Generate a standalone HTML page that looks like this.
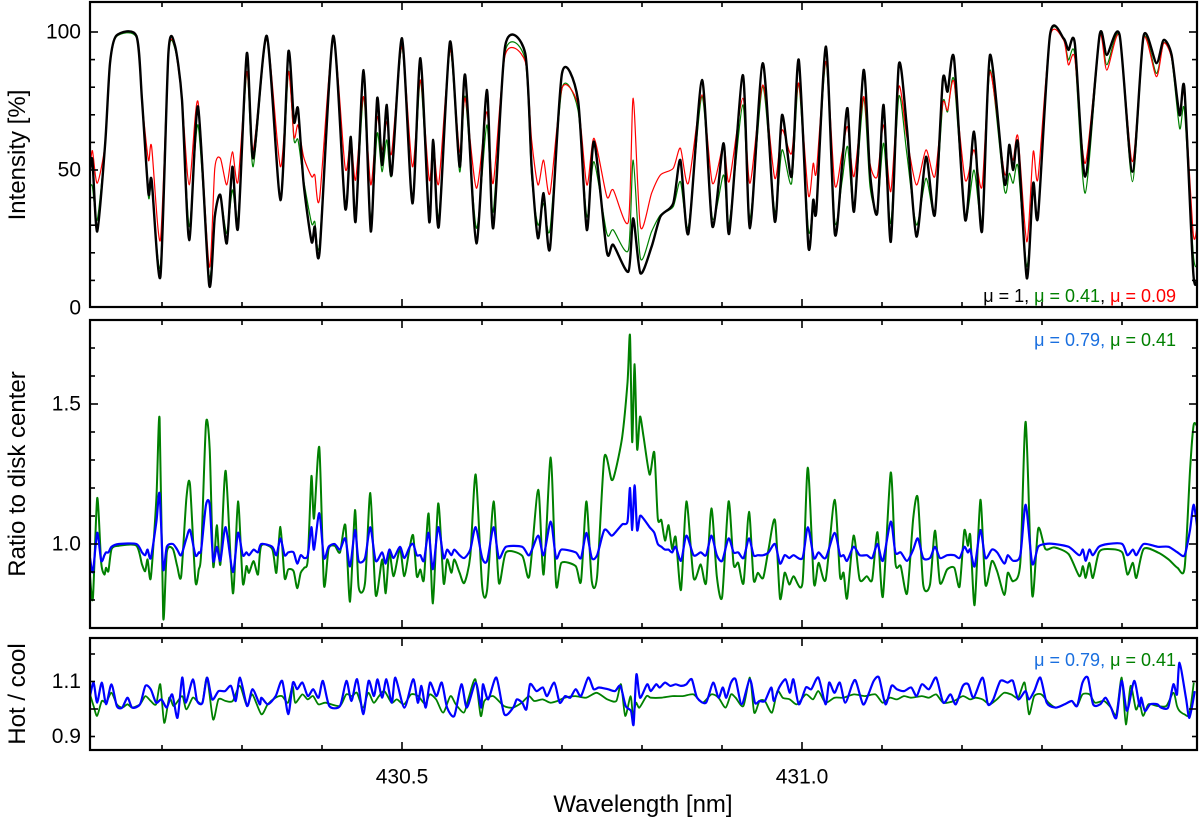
<!DOCTYPE html>
<html><head><meta charset="utf-8">
<style>
html,body{margin:0;padding:0;background:#fff;}
svg{display:block;font-family:"Liberation Sans",Arial,sans-serif;}
</style></head>
<body>
<svg id="chart" width="1200" height="824" viewBox="0 0 1200 824" xmlns="http://www.w3.org/2000/svg">
<defs>
<clipPath id="c1"><rect x="90" y="2" width="1107" height="305"/></clipPath>
<clipPath id="c2"><rect x="90" y="320" width="1107" height="308"/></clipPath>
<clipPath id="c3"><rect x="90" y="638" width="1107" height="112"/></clipPath>
</defs>
<g id="layer"></g>
<text x="0" y="0" transform="translate(25,155) rotate(-90)" text-anchor="middle" font-size="24">Intensity [%]</text>
<text x="0" y="0" transform="translate(25,474) rotate(-90)" text-anchor="middle" font-size="24">Ratio to disk center</text>
<text x="0" y="0" transform="translate(25,694) rotate(-90)" text-anchor="middle" font-size="24">Hot / cool</text>
<text x="643" y="812" text-anchor="middle" font-size="24">Wavelength [nm]</text>
<text x="1176" y="302" text-anchor="end" font-size="18"><tspan fill="#000">μ = 1, </tspan><tspan fill="#008000">μ = 0.41</tspan><tspan fill="#000">, </tspan><tspan fill="#ff0000">μ = 0.09</tspan></text>
<text x="1176" y="346" text-anchor="end" font-size="18"><tspan fill="#1a6fdf">μ = 0.79</tspan><tspan fill="#1a6fdf">, </tspan><tspan fill="#008000">μ = 0.41</tspan></text>
<text x="1176" y="666" text-anchor="end" font-size="18"><tspan fill="#1a6fdf">μ = 0.79</tspan><tspan fill="#1a6fdf">, </tspan><tspan fill="#008000">μ = 0.41</tspan></text>
</svg>
<script>
// ---- top panel data (wavelength nm, intensity %) ----
const topWl=[430.110,430.113,430.119,430.129,430.135,430.143,430.168,430.175,430.183,430.187,430.198,430.208,430.216,430.225,430.234,430.245,430.259,430.266,430.273,430.281,430.288,430.295,430.306,430.314,430.331,430.348,430.358,430.365,430.370,430.377,430.387,430.391,430.397,430.414,430.429,430.436,430.442,430.452,430.461,430.469,430.475,430.481,430.487,430.500,430.513,430.523,430.534,430.539,430.546,430.560,430.572,430.579,430.593,430.606,430.614,430.629,430.654,430.662,430.670,430.677,430.685,430.700,430.720,430.731,430.740,430.756,430.764,430.783,430.789,430.798,430.812,430.823,430.839,430.848,430.858,430.875,430.888,430.902,430.909,430.926,430.935,430.951,430.966,430.975,430.987,430.996,431.008,431.014,431.018,431.030,431.041,431.050,431.057,431.065,431.077,431.085,431.094,431.102,431.111,431.121,431.131,431.143,431.155,431.166,431.176,431.182,431.190,431.204,431.215,431.225,431.235,431.253,431.259,431.264,431.270,431.281,431.289,431.295,431.310,431.327,431.333,431.341,431.354,431.372,431.381,431.397,431.413,431.427,431.443,431.452,431.462,431.472,431.478,431.489,431.494];
const topBlack=[50.0,53.6,27.7,59.7,88.7,98.7,98.6,75.4,41.6,46.4,11.4,92.3,95.3,75.4,24.6,73,8.3,33.1,40.9,23.4,51.2,28.9,92.3,54.2,98.6,39.1,92.9,67.5,72.3,45.2,24,29.5,20.4,98.6,36.1,62,31.3,86.2,27.7,76,51.8,73.6,48.2,97.7,37.9,90.5,31.3,60.9,29.5,96.5,51.2,84.4,23.4,79,28.9,95,92.3,51.2,25.3,41.6,21.6,85,75.4,28.3,60.3,20.4,22.9,13.2,32.5,12.6,22.2,33.1,37.9,53.6,27,82.6,29.5,59.7,27,84.4,28.9,88.7,31.3,69.9,47.6,89.9,22.2,39.1,35.5,94.7,27,51.2,72.3,34.9,86.2,48.8,34.3,73.6,24,88.1,65.7,25.9,54.8,33.7,82.6,78.4,90.5,31.9,63.9,27.7,91.7,45.2,59.1,50,59.7,10.8,45.2,33.1,98.9,97.7,93.5,95.9,47.6,98.9,91.7,98.9,49.4,98.6,88.7,97.1,91.7,69.9,79.6,13.2,10];
const topGreen=[44,44,31.9,59.7,88,98.3,98,75,40.4,44,15,91,94.1,75.4,29.5,66.3,11.4,34.3,40.4,27,42.8,33.1,85.6,51.2,97.7,39.1,85.6,60.9,60.9,46.4,30.7,31.3,23.4,97.7,37.9,61.5,33.1,76.6,31.9,63.3,49.4,60.9,48.2,94.7,39.1,82.6,34.3,59.7,33.1,93.5,49.4,76.6,28.9,66.3,34.9,92.9,89.9,47.6,30.1,37.9,28.3,79.6,71.7,33.1,53,27,28.3,21,53.6,18,27.7,33.7,36.7,45.8,29.5,76.6,32.5,48.2,30.7,73.6,32.5,80.2,34.9,57.3,45.2,81.4,28.3,37.9,37.3,89.3,31.3,45.8,58.5,36.1,76,44,35.5,59.7,30.7,76.6,56,30.1,47,34.3,74.2,71.1,82.6,33.1,50,31.3,86.2,42.8,48.8,45.2,51.2,15,43.4,34.3,98.6,97.2,89.9,91.7,41.6,98.4,88.1,98.4,45.8,97.7,85,96,90.5,65.1,71.7,19.8,15];
const topRed=[50,57,45.2,59.7,88,98.5,98.5,75,53.6,58.5,24.6,92,94.7,75.4,44.6,74.8,15,50.6,54.2,44.6,56.6,45.8,85.6,57.3,97.7,51.2,85.6,62,66.3,54.8,47.6,48.2,39.7,97.3,50.6,61.5,46.4,76.6,44.6,69.3,57.3,67.5,56,94.7,51.2,82.6,46.4,60.3,45.2,93.5,56.6,76,43.4,71.1,45.2,91.7,89.3,60.9,44.6,53.6,41.6,79.6,73.6,44.6,61.5,40.4,42.8,31.3,76,29.5,41.6,48.2,50.6,57.9,45.2,77.2,45.2,59.1,45.8,76,45.2,80.8,47,64.5,56,81.4,40.9,52.4,49.4,89.3,44.6,56,65.7,47.6,76.6,52.4,47.6,66.3,42.2,80.2,62,44.6,57.3,47.6,74.2,71.7,82,46.4,57.3,43.9,85.6,48.8,57.9,53.6,62,24,56.6,47,98.3,97.1,88.1,90.5,52.4,98.3,86.2,98.5,53,97.7,83.8,95.9,90.5,69.9,77.8,27,30];

// ---- middle panel data (ratio to disk center) ----
const midWl=[430.110,430.1136,430.119,430.124,430.128,430.130,430.133,430.137,430.146,430.168,430.175,430.179,430.182,430.186,430.193,430.197,430.2015,430.206,430.2136,430.219,430.224,430.2305,430.235,430.2417,430.246,430.249,430.255,430.2596,430.264,430.2685,430.273,430.2796,430.2886,430.295,430.301,430.3055,430.3087,430.3145,430.32,430.324,430.3377,430.343,430.348,430.3533,430.3578,430.3645,430.369,430.3734,430.3778,430.3823,430.3868,430.390,430.3966,430.4024,430.4082,430.4158,430.4225,430.4292,430.435,430.4413,430.4457,430.4538,430.4604,430.4671,430.4752,430.4796,430.4841,430.4895,430.4975,430.5029,430.5096,430.514,430.5185,430.523,430.5274,430.5332,430.5386,430.5453,430.552,430.5564,430.5618,430.5654,430.572,430.5779,430.5854,430.5921,430.6002,430.6064,430.6145,430.6211,430.630,430.6502,430.6591,430.6703,430.677,430.6859,430.6926,430.6993,430.7171,430.7238,430.7305,430.7372,430.7439,430.7529,430.7618,430.7663,430.7752,430.7819,430.785,430.7877,430.7908,430.7939,430.7975,430.802,430.8095,430.8154,430.8198,430.8243,430.8288,430.8332,430.8377,430.8421,430.8488,430.8555,430.8645,430.8734,430.8801,430.8868,430.8935,430.9002,430.9082,430.9145,430.9203,430.927,430.9337,430.9395,430.9448,430.9515,430.9582,430.9663,430.9725,430.9783,430.9841,430.9895,431.0006,431.0073,431.0149,431.0207,431.0296,431.0408,431.0475,431.052,431.0564,431.0645,431.0721,431.081,431.0877,431.0944,431.1011,431.1109,431.1167,431.1234,431.1314,431.139,431.1448,431.1515,431.16,431.1662,431.1725,431.1814,431.1904,431.197,431.2029,431.2073,431.2104,431.2158,431.223,431.2292,431.2372,431.2439,431.2529,431.2573,431.264,431.2729,431.2796,431.2877,431.2952,431.3042,431.3154,431.3332,431.3466,431.3511,431.3546,431.3591,431.3636,431.3711,431.3823,431.4002,431.4068,431.4136,431.418,431.427,431.4448,431.4582,431.4694,431.4783,431.485,431.4895,431.494];
const midGreen=[0.885,0.806,1.164,0.933,0.891,0.915,0.903,0.982,0.994,0.994,0.927,0.903,0.945,0.879,1.164,1.448,0.739,0.970,0.982,0.921,0.885,1.164,1.212,0.867,0.909,0.970,1.430,1.339,0.921,1.067,0.927,1.261,0.824,1.152,0.861,0.921,0.897,0.939,0.891,0.994,0.982,0.897,1.061,0.879,0.909,0.903,0.842,0.897,0.915,0.945,1.242,1.091,1.345,0.855,0.982,0.994,0.970,1.067,0.794,1.121,0.848,0.861,1.182,0.818,0.945,0.824,0.970,0.885,0.982,0.885,0.988,1.030,0.885,0.909,0.873,1.109,0.788,1.145,0.861,0.945,0.897,0.945,0.897,0.861,0.958,1.248,0.848,0.836,1.152,0.861,0.970,0.958,0.885,1.194,0.891,1.309,0.855,0.933,0.921,0.867,1.152,0.867,0.885,1.309,1.230,1.255,1.382,1.576,1.745,1.364,1.642,1.339,1.455,1.382,1.248,1.327,1.091,1.085,1.012,1.067,0.982,1.024,0.836,1.152,0.879,0.927,0.861,1.127,0.885,0.812,1.152,0.927,0.933,0.861,1.115,0.873,0.897,0.879,0.982,1.085,0.806,0.897,0.855,0.885,0.861,1.273,0.861,0.933,0.873,1.158,0.885,0.897,0.806,1.030,0.873,0.885,0.873,1.042,0.812,1.255,0.933,0.921,0.824,1.091,1.164,0.855,0.855,1.048,0.861,0.909,0.915,0.848,1.048,0.994,1.030,0.782,1.158,0.855,0.939,0.903,0.818,0.897,0.867,0.933,1.436,0.818,1.055,0.982,0.988,0.964,0.885,0.921,0.879,0.933,0.879,0.970,0.982,0.970,0.891,0.933,0.879,0.982,0.970,0.945,0.915,0.915,1.261,1.424,1.42];
const midBlue=[0.95,0.90,1.04,0.94,0.96,0.97,0.97,0.99,1.0,1.0,0.97,0.96,0.98,0.95,1.08,1.18,0.91,0.99,1.0,0.98,0.96,1.02,1.05,0.96,0.97,0.98,1.14,1.14,0.94,0.99,0.94,1.06,0.90,1.04,0.96,0.97,0.96,0.98,0.97,1.0,0.99,0.96,1.02,0.96,0.97,0.97,0.93,0.96,0.95,0.96,1.06,0.98,1.11,0.95,0.99,1.0,0.98,1.02,0.92,1.05,0.94,0.95,1.06,0.94,0.97,0.93,0.98,0.95,0.99,0.95,0.99,1.0,0.96,0.96,0.94,1.04,0.91,1.06,0.95,0.98,0.96,0.98,0.96,0.95,0.98,1.06,0.95,0.94,1.06,0.95,0.99,0.99,0.96,1.03,0.96,1.08,0.95,0.98,0.97,0.95,1.04,0.95,0.96,1.05,1.03,1.04,1.07,1.08,1.20,1.05,1.21,1.05,1.10,1.09,1.06,1.04,1.0,0.99,0.98,0.98,0.97,0.99,0.94,1.03,0.96,0.97,0.96,1.03,0.96,0.94,1.02,0.97,0.97,0.95,1.02,0.96,0.96,0.96,0.97,1.0,0.93,0.96,0.95,0.96,0.95,1.06,0.95,0.97,0.95,1.04,0.96,0.96,0.94,0.99,0.96,0.96,0.95,1.0,0.94,1.08,0.97,0.97,0.94,0.98,1.02,0.95,0.95,0.99,0.95,0.96,0.96,0.95,0.99,0.97,0.98,0.92,1.05,0.95,0.98,0.97,0.93,0.96,0.94,0.96,1.14,0.93,0.99,1.0,1.0,0.99,0.96,0.98,0.94,0.98,0.96,0.99,1.0,1.0,0.96,0.98,0.96,1.0,0.99,0.99,0.97,0.96,1.05,1.14,1.06];

// ---- bottom panel data (hot / cool) ----
const botBlueWl=[430.1100,430.1145,430.1189,430.1247,430.1301,430.1368,430.1435,430.1502,430.1569,430.1627,430.1725,430.1792,430.1859,430.1926,430.1993,430.2060,430.2127,430.2194,430.2252,430.2296,430.2386,430.2439,430.2506,430.2564,430.2627,430.2707,430.2788,430.2863,430.2921,430.2975,430.3064,430.3131,430.3221,430.3243,430.3323,430.3421,430.3502,430.3578,430.3636,430.3689,430.3756,430.3823,430.3890,430.3957,430.4011,430.4091,430.4225,430.4305,430.4368,430.4439,430.4515,430.4582,430.4649,430.4694,430.4752,430.4805,430.4872,430.4917,430.5029,430.5140,430.5198,430.5243,430.5296,430.5350,430.5430,430.5497,430.5564,430.5654,430.5743,430.5810,430.5921,430.5989,430.6011,430.6078,430.6180,430.6279,430.6390,430.6435,430.6502,430.6555,430.6600,430.6680,430.6761,430.6814,430.6904,430.6971,430.7038,430.7104,430.7171,430.7238,430.7328,430.7395,430.7462,430.7573,430.7663,430.7730,430.7796,430.7863,430.7895,430.7930,430.7975,430.8064,430.8109,430.8176,430.8221,430.8287,430.8354,430.8421,430.8488,430.8555,430.8622,430.8689,430.8800,430.8889,430.8956,430.9010,430.9054,430.9112,430.9170,430.9246,430.9349,430.9411,430.9469,430.9536,430.9616,430.9648,430.9715,430.9795,430.9848,430.9893,430.9960,431.0049,431.0116,431.0205,431.0294,431.0339,431.0406,431.0473,431.0540,431.0629,431.0673,431.0763,431.0830,431.0896,431.0963,431.1044,431.1119,431.1186,431.1275,431.1365,431.1432,431.1498,431.1588,431.1677,431.1766,431.1855,431.1922,431.2011,431.2078,431.2145,431.2257,431.2324,431.2391,431.2480,431.2569,431.2636,431.2703,431.2792,431.2837,431.2903,431.2979,431.3059,431.3171,431.3282,431.3372,431.3439,431.3506,431.3573,431.3639,431.3728,431.3795,431.3862,431.3929,431.3996,431.4063,431.4152,431.4219,431.4241,431.4286,431.4353,431.4442,431.4487,431.4576,431.4643,431.4687,431.4719,431.4799,431.4843,431.4910];
const botBlue=[1.047,1.096,1.023,1.096,1.017,1.090,1.011,1.005,1.041,1.005,1.017,1.084,1.072,1.023,1.035,1.005,1.053,0.968,1.114,1.023,1.108,1.029,1.023,1.114,1.035,1.065,1.065,1.084,1.029,1.114,1.011,1.072,1.017,1.041,1.017,1.047,1.102,0.981,1.096,1.072,1.096,1.047,1.072,1.041,1.102,1.011,1.011,1.102,1.029,1.108,0.981,1.102,1.047,1.108,1.041,1.108,1.023,1.114,1.005,1.108,1.023,1.084,1.005,1.096,1.047,1.096,1.005,0.975,1.090,1.005,1.096,1.005,1.090,1.035,1.114,0.981,1.005,1.035,1.023,0.999,1.090,1.065,1.078,1.047,1.096,1.023,1.047,1.041,1.072,1.047,1.114,1.072,1.078,1.072,1.065,1.084,1.011,0.993,0.944,1.126,1.041,1.090,1.065,1.090,1.078,1.096,1.084,1.090,1.084,1.090,1.108,1.041,1.023,1.096,1.041,1.078,1.041,1.096,1.108,1.017,1.108,1.023,1.029,1.029,1.078,1.029,1.078,1.108,1.059,1.108,1.017,1.078,1.072,1.114,1.017,1.096,1.059,1.096,1.023,1.090,1.102,1.017,1.053,1.102,1.114,1.017,1.084,1.072,1.065,1.078,1.047,1.090,1.072,1.114,1.023,1.053,1.017,1.084,1.090,1.041,1.114,1.017,1.035,1.102,1.096,1.102,1.035,1.065,1.035,1.065,1.114,1.023,1.005,1.017,1.029,1.011,1.096,1.114,1.017,1.017,1.041,1.005,0.968,1.102,0.993,1.102,1.011,1.041,0.993,1.017,1.017,1.005,1.005,1.090,1.053,1.168,1.041,0.968,1.065];
const botGreenWl=[430.1100,430.1145,430.1189,430.1247,430.1301,430.1368,430.1435,430.1502,430.1569,430.1627,430.1725,430.1792,430.1859,430.1926,430.1979,430.2028,430.2090,430.2148,430.2252,430.2304,430.2384,430.2438,430.2505,430.2563,430.2639,430.2706,430.2795,430.2884,430.2973,430.3062,430.3129,430.3241,430.3321,430.3419,430.3500,430.3575,430.3633,430.3665,430.3754,430.3821,430.3888,430.3955,430.4044,430.4222,430.4302,430.4378,430.4436,430.4512,430.4579,430.4646,430.4713,430.4780,430.4869,430.4936,430.5025,430.5114,430.5203,430.5292,430.5346,430.5426,430.5515,430.5605,430.5672,430.5774,430.5828,430.5917,430.5984,430.6029,430.6140,430.6274,430.6385,430.6497,430.6586,430.6653,430.6756,430.6854,430.6943,430.7033,430.7166,430.7300,430.7433,430.7567,430.7679,430.7737,430.7790,430.7857,430.7888,430.7924,430.7968,430.8058,430.8109,430.8243,430.8377,430.8510,430.8644,430.8756,430.8867,430.8956,430.9045,430.9112,430.9170,430.9268,430.9349,430.9402,430.9469,430.9536,430.9625,430.9692,430.9759,430.9848,430.9937,431.0049,431.0138,431.0205,431.0294,431.0406,431.0517,431.0651,431.0785,431.0919,431.1008,431.1097,431.1186,431.1275,431.1365,431.1498,431.1588,431.1677,431.1766,431.1900,431.2011,431.2101,431.2167,431.2257,431.2346,431.2435,431.2525,431.2614,431.2703,431.2783,431.2837,431.2903,431.2993,431.3082,431.3171,431.3282,431.3372,431.3439,431.3506,431.3595,431.3662,431.3775,431.3862,431.3929,431.3996,431.4049,431.4107,431.4174,431.4219,431.4264,431.4330,431.4442,431.4554,431.4643,431.4687,431.4719,431.4777,431.4843,431.4897];
const botGreen=[1.053,1.011,0.975,1.029,1.023,1.059,1.017,1.005,1.017,1.005,1.017,1.047,1.029,1.017,1.090,0.950,1.041,1.011,1.047,0.999,1.041,1.029,1.023,1.114,0.962,1.035,1.029,1.029,1.084,1.011,1.053,0.981,1.017,1.041,1.047,1.023,1.084,1.023,1.053,1.035,1.047,1.017,1.023,1.011,1.053,1.047,1.059,1.005,1.059,1.023,1.047,1.065,1.023,1.035,1.017,1.053,1.047,1.017,1.053,1.035,0.987,1.047,1.017,0.987,1.035,1.108,0.975,1.029,1.047,1.011,1.005,1.023,1.047,1.029,1.035,1.023,1.029,1.041,1.047,1.041,1.059,1.035,1.029,1.090,0.975,1.047,0.975,1.023,1.005,1.047,1.041,1.041,1.047,1.047,1.053,1.023,1.053,1.041,1.005,1.053,1.041,1.011,1.114,0.987,1.029,1.029,0.987,1.065,1.041,1.035,1.017,1.053,1.035,1.065,1.023,1.041,1.041,1.053,1.047,1.053,1.023,1.041,1.035,1.047,1.041,1.047,1.041,1.053,1.023,1.029,1.047,1.035,1.041,1.035,1.017,1.035,1.059,1.053,1.041,1.096,0.981,1.047,1.053,1.023,1.005,1.017,1.029,1.011,1.053,1.053,1.023,1.029,1.005,0.981,1.114,0.944,1.084,0.999,1.023,0.975,1.017,1.011,1.011,1.059,1.011,0.993,0.981,0.981,1.096];

// ---- axis tick values ----
const xTicks=[430.2,430.3,430.4,430.5,430.6,430.7,430.8,430.9,431.0,431.1,431.2,431.3,431.4];
const xTickLabels=["430.5","431.0"];
const topYTickLabels=["100","50","0"];
const midYTickLabels=["1.5","1.0"];
const botYTickLabels=["1.1","0.9"];

const NS='http://www.w3.org/2000/svg';
const layer=document.getElementById('layer');
const X0=90,X1=1197;
function xs(w){return 90+(w-430.11)*800;}
const panels={
  top:{y0:2,y1:307,ys:v=>308-v*2.76,clip:'c1'},
  mid:{y0:320,y1:628,ys:v=>544-(v-1)*280,clip:'c2'},
  bot:{y0:638,y1:750,ys:v=>709-(v-1)*275,clip:'c3'}
};
function mk(tag,attrs){const e=document.createElementNS(NS,tag);for(const k in attrs)e.setAttribute(k,attrs[k]);return e;}
function smoothPath(pts){
  const T=8;
  let d='M'+pts[0][0].toFixed(1)+','+pts[0][1].toFixed(1);
  for(let i=0;i<pts.length-1;i++){
    const p0=pts[i-1]||pts[i],p1=pts[i],p2=pts[i+1],p3=pts[i+2]||p2;
    const c1x=p1[0]+(p2[0]-p0[0])/T,c1y=p1[1]+(p2[1]-p0[1])/T;
    const c2x=p2[0]-(p3[0]-p1[0])/T,c2y=p2[1]-(p3[1]-p1[1])/T;
    d+='C'+c1x.toFixed(1)+','+c1y.toFixed(1)+' '+c2x.toFixed(1)+','+c2y.toFixed(1)+' '+p2[0].toFixed(1)+','+p2[1].toFixed(1);
  }
  return d;
}
function drawSeries(p,wl,vals,color,width,name){
  const pts=wl.map((w,i)=>[xs(w),p.ys(vals[i])]);
  const path=mk('path',{d:smoothPath(pts),fill:'none',stroke:color,'stroke-width':width,'stroke-linejoin':'round','clip-path':'url(#'+p.clip+')'});
  
  
  layer.appendChild(path);
}
function frame(p,name,yMinor,yMajorSet){
  const r=mk('rect',{x:X0,y:p.y0,width:X1-X0,height:p.y1-p.y0,fill:'none',stroke:'#000','stroke-width':2.2});
  
  
  layer.appendChild(r);
  xTicks.forEach(t=>{
    const x=xs(t);const L=(Math.abs(t-430.5)<1e-6||Math.abs(t-431.0)<1e-6)?8:5;
    const a=mk('line',{x1:x,x2:x,y1:p.y0,y2:p.y0+L,stroke:'#000','stroke-width':1.6});
    
    
    layer.appendChild(a);
    const b=mk('line',{x1:x,x2:x,y1:p.y1,y2:p.y1-L,stroke:'#000','stroke-width':1.6});
    
    
    layer.appendChild(b);
  });
  yMinor.forEach(v=>{
    const y=p.ys(v);if(y<p.y0+2||y>p.y1-2)return;
    const L=yMajorSet.some(m=>Math.abs(m-v)<1e-6)?8:5;
    const a=mk('line',{x1:X0,x2:X0+L,y1:y,y2:y,stroke:'#000','stroke-width':1.6});
    
    
    layer.appendChild(a);
    const b=mk('line',{x1:X1,x2:X1-L,y1:y,y2:y,stroke:'#000','stroke-width':1.6});
    
    
    layer.appendChild(b);
  });
}
function label(x,y,txt,anchor,name){
  const t=mk('text',{x:x,y:y,'text-anchor':anchor,'font-size':21,'dominant-baseline':'central'});
  t.textContent=txt;
  
  
  layer.appendChild(t);
}
drawSeries(panels.top,topWl,topGreen,'#008000',1.2,'series-mu-0.41-intensity');
drawSeries(panels.top,topWl,topRed,'#ff0000',1.2,'series-mu-0.09-intensity');
drawSeries(panels.top,topWl,topBlack,'#000000',2.4,'series-mu-1-intensity');
drawSeries(panels.mid,midWl,midGreen,'#008000',2,'series-mu-0.41-ratio');
drawSeries(panels.mid,midWl,midBlue,'#0000ff',2.2,'series-mu-0.79-ratio');
drawSeries(panels.bot,botGreenWl,botGreen,'#008000',1.8,'series-mu-0.41-hotcool');
drawSeries(panels.bot,botBlueWl,botBlue,'#0000ff',2.2,'series-mu-0.79-hotcool');
const topMinor=[];for(let v=0;v<=100;v+=10)topMinor.push(v);
frame(panels.top,'top-panel-frame',topMinor,[0,50,100]);
const midMinor=[];for(let v=7;v<=18;v++)midMinor.push(v/10);
frame(panels.mid,'middle-panel-frame',midMinor,[1.0,1.5]);
const botMinor=[0.9,1.0,1.1,1.2];
frame(panels.bot,'bottom-panel-frame',botMinor,[1.0]);
[100,50,0].forEach((v,i)=>label(81,panels.top.ys(v),topYTickLabels[i],'end','top-y-tick-label'));
[1.5,1.0].forEach((v,i)=>label(81,panels.mid.ys(v),midYTickLabels[i],'end','middle-y-tick-label'));
[1.1,0.9].forEach((v,i)=>label(81,panels.bot.ys(v),botYTickLabels[i],'end','bottom-y-tick-label'));
[430.5,431.0].forEach((v,i)=>label(xs(v),777,xTickLabels[i],'middle','x-tick-label'));
</script>
</body></html>
